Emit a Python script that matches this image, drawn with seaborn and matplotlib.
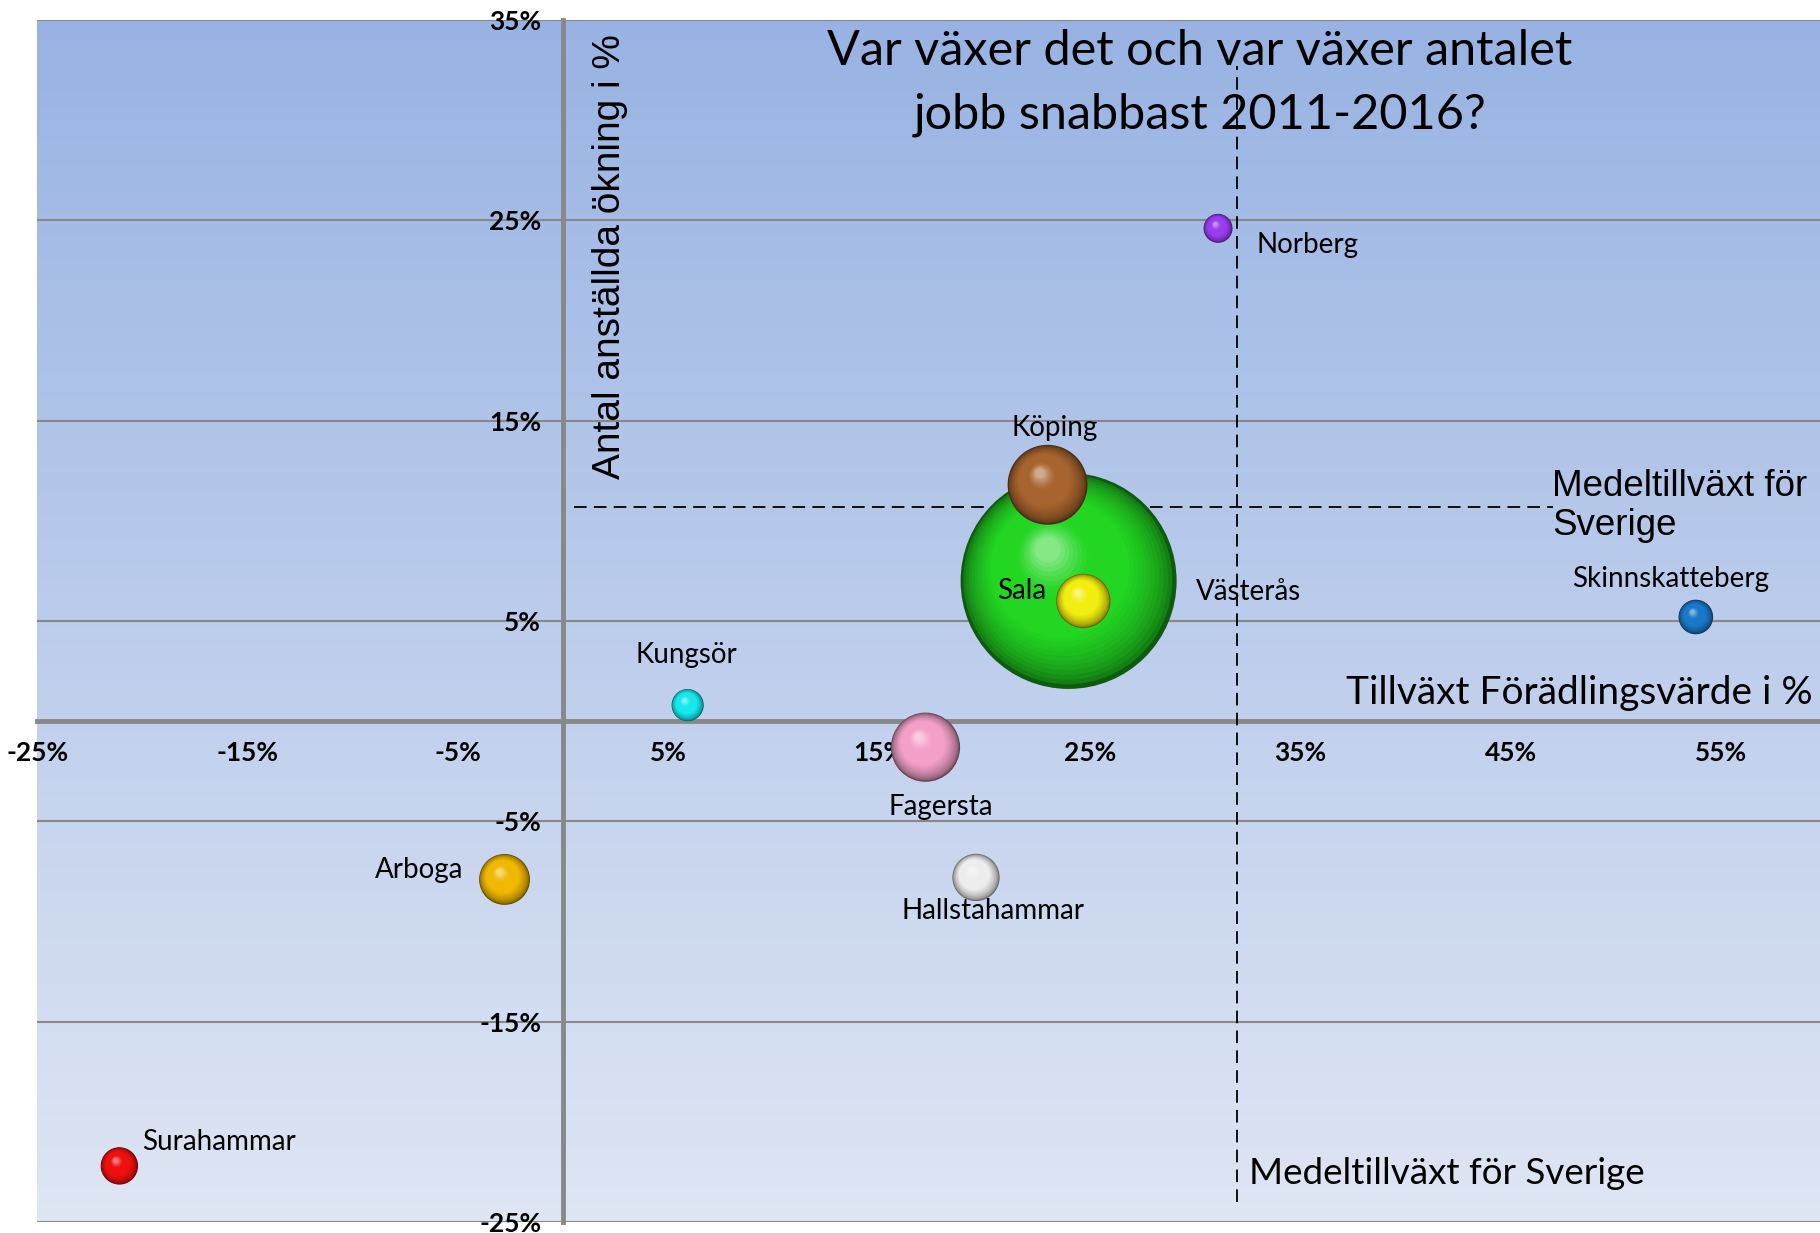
import numpy as np
import pandas as pd
import matplotlib
matplotlib.use("Agg")
import matplotlib.pyplot as plt
import seaborn as sns
from matplotlib.colors import to_rgb

# ---------------- data ----------------
kommuner = ["Västerås", "Köping", "Sala", "Norberg", "Skinnskatteberg",
            "Kungsör", "Fagersta", "Arboga", "Hallstahammar", "Surahammar"]
tillvaxt_foradlingsvarde = [24.0, 23.0, 24.7, 31.1, 53.8, 5.9, 17.2, -2.8, 19.6, -21.1]
okning_anstallda = [7.0, 11.8, 6.0, 24.6, 5.2, 0.8, -1.3, -7.9, -7.8, -22.2]
bubbel_storlek = [11700, 1600, 740, 210, 300, 260, 1200, 650, 560, 350]
farger = ["#22D622", "#A8642E", "#F2EE10", "#9A3CF0", "#1A78C8",
          "#16E8EE", "#F2A0C8", "#F0B800", "#EDEDED", "#F01010"]

x_ticks = [-25, -15, -5, 5, 15, 25, 35, 45, 55]
x_tick_labels = ["-25%", "-15%", "-5%", "5%", "15%", "25%", "35%", "45%", "55%"]
y_ticks = [-25, -15, -5, 5, 15, 25, 35]
y_tick_labels = ["-25%", "-15%", "-5%", "5%", "15%", "25%", "35%"]

sverige_foradlingsvarde = 32.0
sverige_anstallda = 10.7

titel_rader = ["Var växer det och var växer antalet", "jobb snabbast 2011-2016?"]
y_etikett = "Antal anställda ökning i %"
x_etikett = "Tillväxt Förädlingsvärde i %"
ref_etikett_h = "Medeltillväxt för\nSverige"
ref_etikett_v = "Medeltillväxt för Sverige"

# label placement (offset in points, horizontal alignment)
etikett_stil = {
    "Västerås": (92, -8, "left"),
    "Köping": (5, 41, "center"),
    "Sala": (-27, 7, "right"),
    "Norberg": (28, -12, "left"),
    "Skinnskatteberg": (-18, 27, "center"),
    "Kungsör": (-1, 36, "center"),
    "Fagersta": (11, -43, "center"),
    "Arboga": (-30, 7, "right"),
    "Hallstahammar": (12, -24, "center"),
    "Surahammar": (16, 17, "left"),
}

# ---------------- figure ----------------
sns.set_theme(style="white")
plt.rcParams["font.family"] = ["Lato", "DejaVu Sans"]
plt.rcParams["text.color"] = "black"

DPI = 100
W, H = 1820, 1233
fig = plt.figure(figsize=(W / DPI, H / DPI), dpi=DPI)
fig.patch.set_facecolor("white")
left, right, top, bottom = 37.3, 1820, 20, 1222
ax = fig.add_axes([left / W, 1 - bottom / H, (right - left) / W, (bottom - top) / H])

# gradient background
g = np.linspace(0, 1, 256)[:, None, None]
c_top = np.array(to_rgb("#98B3E3"))
c_bot = np.array(to_rgb("#DFE6F4"))
img = c_top * (1 - g) + c_bot * g
ax.imshow(img, extent=(0, 1, 0, 1), transform=ax.transAxes, aspect="auto",
          zorder=-1, interpolation="bilinear")

ax.set_xlim(-25, 59.7)
ax.set_ylim(-25, 35)

axis_gray = "#888888"
for s in ["top", "right"]:
    ax.spines[s].set_visible(False)
ax.spines["left"].set_position(("data", 0))
ax.spines["bottom"].set_position(("data", 0))
for s in ["left", "bottom"]:
    ax.spines[s].set_color(axis_gray)
    ax.spines[s].set_linewidth(3.5)
    ax.spines[s].set_zorder(0.8)

ax.set_xticks(x_ticks)
ax.set_xticklabels(x_tick_labels)
ax.set_yticks(y_ticks)
ax.set_yticklabels(y_tick_labels)
ax.tick_params(axis="both", direction="out", length=5, width=3.5, color=axis_gray,
               labelsize=19, labelcolor="black")
ax.tick_params(axis="x", pad=9)
ax.tick_params(axis="y", pad=11)
for lab in ax.get_xticklabels() + ax.get_yticklabels():
    lab.set_fontweight("bold")
ax.yaxis.grid(True, color=axis_gray, linewidth=1.5)
ax.xaxis.grid(False)
ax.set_axisbelow(True)

# reference lines (Swedish average)
ax.vlines(sverige_foradlingsvarde, -24, 32.7, colors="black", linewidth=1.3,
          linestyles=(0, (7, 4)), zorder=1)
ax.hlines(sverige_anstallda, 0.5, 47, colors="black", linewidth=1.3,
          linestyles=(0, (7, 4)), zorder=1)

# ---------------- bubbles ----------------
df = pd.DataFrame({"kommun": kommuner, "x": tillvaxt_foradlingsvarde,
                   "y": okning_anstallda, "storlek": bubbel_storlek, "farg": farger})
S_MAX = (2 * 108 * 72 / DPI) ** 2          # marker area (pt^2) for the largest bubble
max_storlek = max(bubbel_storlek)

n_lager = 28
t = np.linspace(0, 1, n_lager)
frac = 1 - 0.88 * t


def lager_farger(base):
    b = np.array(to_rgb(base))
    dark = b * 0.42
    light = b + (1 - b) * 0.45
    out = []
    for tt in t:
        if tt < 0.4:
            c = dark + (b - dark) * (tt / 0.4) ** 0.5
        elif tt < 0.72:
            c = b
        else:
            c = b + (light - b) * ((tt - 0.72) / 0.28) ** 1.4
        out.append(tuple(np.clip(c, 0, 1)))
    return out


for i, row in df.iterrows():
    s_pt2 = S_MAX * row.storlek / max_storlek
    r_px = np.sqrt(s_pt2) / 2 * DPI / 72
    cx, cy = ax.transData.transform((row.x, row.y))
    sx = cx + (1 - frac) * r_px * (-0.22)
    sy = cy + (1 - frac) * r_px * 0.33
    pts = ax.transData.inverted().transform(np.column_stack([sx, sy]))
    lager = [f"l{k}" for k in range(n_lager)]
    ldf = pd.DataFrame({"x": pts[:, 0], "y": pts[:, 1],
                        "storlek": row.storlek * frac ** 2, "lager": lager})
    pal = dict(zip(lager, lager_farger(row.farg)))
    sns.scatterplot(data=ldf, x="x", y="y", size="storlek", sizes=(0, S_MAX),
                    size_norm=(0, max_storlek), hue="lager", palette=pal,
                    legend=False, linewidth=0, ax=ax, zorder=3 + i)

    dx, dy, ha = etikett_stil[row.kommun]
    ax.annotate(row.kommun, (row.x, row.y), xytext=(dx, dy), textcoords="offset points",
                ha=ha, va="center", fontsize=20, color="black", zorder=30)

ax.set_xlim(-25, 59.7)
ax.set_ylim(-25, 35)
ax.set_xlabel("")
ax.set_ylabel("")

# ---------------- texts ----------------
fig.text(1200 / W, 1 - 51 / H, titel_rader[0], ha="center", va="center", fontsize=35,
         color="black")
fig.text(1200 / W, 1 - 115 / H, titel_rader[1], ha="center", va="center", fontsize=35,
         color="black")

fig.text(610 / W, 1 - 257 / H, y_etikett, rotation=90, ha="center", va="center",
         fontsize=28, color="black", family=["Liberation Sans", "DejaVu Sans"])
fig.text(1813 / W, 1 - 693 / H, x_etikett, ha="right", va="center", fontsize=28,
         color="black")
fig.text(1552 / W, 1 - 506 / H, ref_etikett_h, ha="left", va="center", fontsize=26.5,
         linespacing=1.15, color="black", family=["Liberation Sans", "DejaVu Sans"])
fig.text(1249 / W, 1 - 1173 / H, ref_etikett_v, ha="left", va="center", fontsize=26.5,
         color="black")

fig.savefig("out.png", dpi=DPI)
